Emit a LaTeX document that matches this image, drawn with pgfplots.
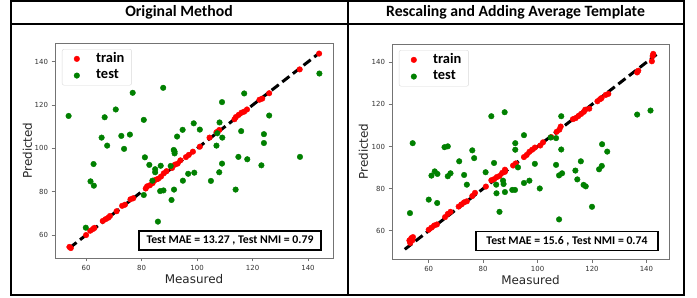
\documentclass[border=0pt]{standalone}
\usepackage{fontspec}
\setmainfont{Carlito}
\newfontfamily\dejavu{DejaVu Sans}
\usepackage{pgfplots}
\usepackage{pgfplotstable}
\pgfplotsset{compat=1.18}
\definecolor{mplred}{HTML}{FF0000}
\definecolor{mplgreen}{HTML}{008000}
\definecolor{tickgray}{HTML}{333333}

\pgfplotstableread{
x y
54 54.5
54.5 54
60 60
61.5 62
62.5 62.8
63 63.3
66 66.5
67 67.3
68 68
68.6 68.8
71 71
73 73.5
74 74
76 76.5
77 77
81.5 81.5
82 82.5
83 83
84 84
85 85.5
86 86
87 87
88 88.5
89 89.5
91 91
92 92.5
93 93
94 94.5
96 96
97 97
98.5 98.5
101 100.8
104.5 105
107 107.5
108 108.5
113.5 113.5
114 114.5
115 115.5
116 116.5
117 117
118 118
122.5 122.5
123.5 123
126 125.5
137 136.5
144 143.8
}\lefttrain

\pgfplotstableread{
x y
53.7 115
87.8 128
76.8 125.7
70.7 118
66.7 114.4
80.8 113.2
65.6 105
72.7 105.8
75.8 106.4
67.6 101.3
73.7 99.8
109 121.4
117 125.4
126 115.2
144.1 134.6
98.8 111.6
108.1 112
101 108.7
94.8 108.6
92.8 105.5
109.1 105
107.3 107
115.9 108
107 101.3
124.1 106.6
124.1 102.5
91.6 99.3
81.2 95.9
91.9 98.5
91.9 97.7
82.8 92.4
84.9 90.4
84.9 89
86.9 92
90.5 91.9
62.7 92.8
61.6 84.8
62.8 82.8
83.9 85.1
94.9 85.1
96.8 88.3
99 88.8
105 85
108 89
109 93
114.9 96.1
118.1 95
123.2 92.2
137.1 96.1
113.9 81
91.7 81
86.7 80.3
87.9 80.6
80.8 78.5
90.8 76.2
85.9 66.2
59.9 63.4
}\lefttest

\pgfplotstableread{
x y
52.9 55.4
53.6 56.5
54.2 57
53.2 54.2
54 55.5
60 60.5
61 61.5
62 62.5
63 63
66 66.5
67 68
68 69
71 71.5
72 72.5
73 73.5
74 74
76 76.5
77 78
81 81
83 84
84 84.5
85 85.5
86 86
87 87.5
88 88
88 89
91 91
92 92
95 95
96 96
97 97.5
98 98.5
99 99.5
101 100.5
102 102
105 104.5
107 107
108 108
108.5 109.5
113 113
114 113.5
115 114.5
116 115.5
117 116.5
117.5 117.5
119 118
122 121.5
123 122.5
123.5 123
125 124.5
126 125
136.6 135.2
137 136
142 140.5
142.3 143
142.5 144
}\righttrain

\pgfplotstableread{
x y
54.1 101.6
65.8 99.7
67 100.1
76 98.2
83 114.4
87.9 116.3
95 105.4
91.8 101.6
91.8 98.5
108.7 114.4
106.8 104
104.8 104.3
108.7 98.6
123.7 101.1
136.6 115.2
141.5 117.1
125.6 97.6
76.7 94.5
71.2 93
84 92.2
73 86.5
67 85.9
68 87.3
61 86.2
62.2 88.2
63.2 87
74 81.9
80.9 87.8
87.5 82.2
84.8 81.9
87.3 83.8
84.9 77.8
88 78.4
90.7 79.4
91.7 79.4
92.8 90.1
95 82.7
97 83.8
99 91.8
100.8 80.1
106.8 91.3
107.9 86.3
109 87.3
113.9 88.6
114.6 84.4
115.9 93
116.9 81.8
117.7 81.1
120 71.4
122.6 89.2
123.6 90.8
107.9 65.4
86 69
53.1 68.4
60 74.8
63.1 73.2
}\righttest

\pgfplotsset{
  panel/.style={
    scale only axis, width=278bp, height=215bp,
    axis line style={black!55, line width=0.8bp},
    tick align=outside, tick pos=left,
    major tick length=3.5bp,
    tick style={black!55, line width=0.8bp},
    xtick={60,80,...,140}, ytick={60,80,...,140},
    /pgf/number format/assume math mode=true,
    tick label style={font=\dejavu\fontsize{7}{8}\selectfont, text=tickgray},
    xlabel={\dejavu\fontsize{12}{14}\selectfont Measured},
    ylabel={\dejavu\fontsize{12}{14}\selectfont Predicted},
    legend cell align=left,
    legend style={at={(0.025,0.972)}, anchor=north west, draw=black!15, rounded corners=2bp, fill=white,
      font=\bfseries\fontsize{14.5}{16}\selectfont, inner xsep=5.7bp, inner ysep=1.3bp,
      nodes={inner sep=1.5bp, text height=10bp, text depth=3.7bp},
      /tikz/every odd column/.append style={column sep=8.8bp}},
    dotlegend/.style={legend image code/.code={\path[draw=none] (0bp,0bp) -- (18bp,0bp); \path[draw=none] plot[only marks, mark=*, mark size=2.8bp, mark options={##1}] coordinates {(9bp,0bp)};}},
    trainst/.style={only marks, mark=*, mark size=2.8bp, mark options={draw=mplred, fill=mplred}, color=mplred, dotlegend},
    testst/.style={only marks, mark=*, mark size=2.8bp, mark options={draw=mplgreen, fill=mplgreen}, color=mplgreen, dotlegend},
    diag/.style={black, line width=3bp, dash pattern=on 9bp off 4.5bp},
  }
}

\begin{document}
\begin{tikzpicture}
\useasboundingbox (0bp,0bp) rectangle (697bp,298bp);
\fill[white] (0bp,0bp) rectangle (697bp,298bp);

% left panel
\begin{axis}[panel, at={(55bp,40bp)}, anchor=south west,
  xmin=48.8, xmax=149, ymin=49.4, ymax=148.7,
  every axis y label/.style={at={(axis description cs:-0.099,0.5)}, rotate=90, anchor=center, text=black!85},
  every axis x label/.style={at={(axis description cs:0.5,-0.098)}, anchor=center, text=black!85}]
\addplot[trainst] table[x=x,y=y] {\lefttrain};
\addlegendentry{train}
\addplot[testst] table[x=x,y=y] {\lefttest};
\addlegendentry{test}
\addplot[diag, forget plot] coordinates {(54,54) (144,144)};
\end{axis}

% right panel
\begin{axis}[panel, width=277bp, at={(392bp,39bp)}, anchor=south west,
  xmin=46.5, xmax=148.3, ymin=46.6, ymax=148.7,
  every axis y label/.style={at={(axis description cs:-0.103,0.5)}, rotate=90, anchor=center, text=black!85},
  every axis x label/.style={at={(axis description cs:0.5,-0.1)}, anchor=center, text=black!85}]
\addplot[trainst] table[x=x,y=y] {\righttrain};
\addlegendentry{train}
\addplot[testst] table[x=x,y=y] {\righttest};
\addlegendentry{test}
\addplot[diag, forget plot] coordinates {(51.2,51.2) (143.7,143.7)};
\end{axis}

% annotation boxes
\node[draw=black, line width=1.5bp, fill=white, minimum width=182bp, minimum height=19bp, inner sep=0pt,
  font=\bfseries\fontsize{11.8}{13}\selectfont] at (230bp,57.5bp) {Test MAE = 13.27 , Test NMI = 0.79};
\node[draw=black, line width=1.5bp, fill=white, minimum width=182bp, minimum height=19bp, inner sep=0pt,
  font=\bfseries\fontsize{11.8}{13}\selectfont] at (567bp,57bp) {Test MAE = 15.6 , Test NMI = 0.74};

% frames and titles
\draw[line width=2bp] (10.5bp,2.5bp) rectangle (347.5bp,297bp);
\draw[line width=2bp] (10.5bp,274bp) -- (347.5bp,274bp);
\draw[line width=2bp] (347.5bp,2.5bp) rectangle (684bp,297bp);
\draw[line width=2bp] (347.5bp,274bp) -- (684bp,274bp);
\node[font=\bfseries\fontsize{15.8}{18}\selectfont] at (179bp,286bp) {Original Method};
\node[font=\bfseries\fontsize{15.8}{18}\selectfont] at (515.5bp,286bp) {Rescaling and Adding Average Template};
\end{tikzpicture}
\end{document}
